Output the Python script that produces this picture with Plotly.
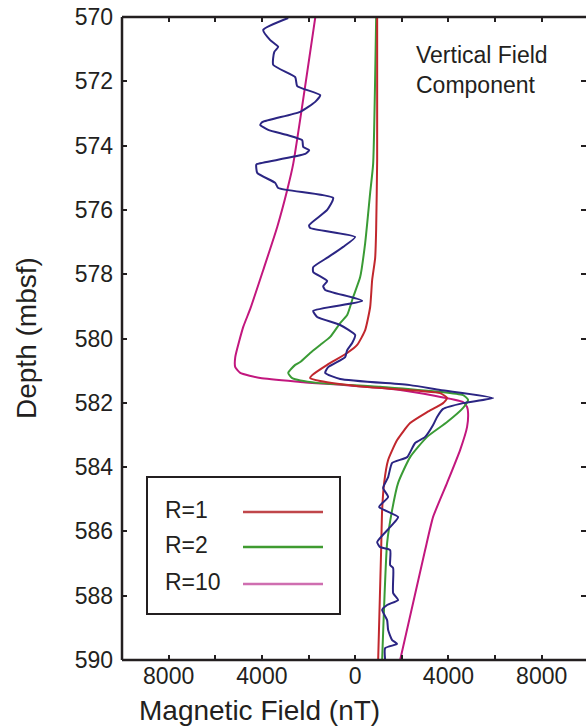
import plotly.graph_objects as go

# ---------------- data ----------------
obs_depth = [570.03, 570.40, 570.72, 570.93, 571.09, 571.49, 571.87, 572.15, 572.43, 572.64,
             572.95, 573.27, 573.36, 573.51, 573.67, 573.83, 574.04, 574.14, 574.26, 574.57,
             574.60, 574.85, 575.16, 575.32, 575.63, 576.00, 576.47, 576.56, 576.84, 577.15,
             577.47, 577.78, 577.93, 578.21, 578.37, 578.49, 578.83, 579.14, 579.33, 579.58,
             579.89, 580.14, 580.36, 580.58, 580.89, 581.07, 581.26, 581.45, 581.60, 581.85,
             582.01, 582.19, 582.44, 582.69, 583.06, 583.25, 583.69, 583.87, 584.31, 584.65,
             584.93, 585.24, 585.55, 585.80, 586.33, 586.49, 586.58, 587.05, 587.14, 587.92,
             588.13, 588.29, 588.44, 588.76, 589.07, 589.38, 589.50, 589.63, 590.0]
obs_field = [-2871, -3943, -3643, -3300, -3471, -3514, -2571, -2486, -1500, -1714,
             -2357, -3986, -4071, -3729, -2914, -2271, -2229, -1971, -2143, -4200,
             -4243, -4200, -3429, -3300, -943, -1200, -1971, -1929, 0, -514,
             -1157, -1800, -1800, -1200, -1371, -1286, 300, -1800, -1629, -643,
             0, -129, -343, -429, -1157, -1286, -643, 2357, 3643, 5914,
             4629, 3771, 3514, 3343, 3000, 2571, 2229, 1586, 1414, 1200,
             1414, 1029, 1843, 1586, 943, 1071, 1500, 1500, 1629, 1629,
             1843, 1371, 1157, 1371, 1414, 1586, 1800, 1286, 1286]

r1_depth = [570.03, 574.45, 576.60, 577.50, 578.18, 579.02, 579.74, 580.20, 580.45, 580.82,
            581.14, 581.23, 581.32, 581.51, 581.70, 581.85, 582.01, 582.29, 582.63, 583.16,
            583.78, 584.49, 585.33, 586.58, 590.0]
r1_field = [943, 943, 900, 857, 729, 643, 429, 86, -343, -1200,
            -1843, -1929, -1500, 514, 3643, 3943, 3771, 3086, 2357, 1800,
            1414, 1243, 1157, 1114, 986]

r2_depth = [570.03, 574.57, 575.47, 577.03, 578.09, 578.71, 579.27, 579.52, 579.95, 580.20,
            580.45, 580.73, 580.82, 581.07, 581.23, 581.38, 581.50, 581.76, 581.91, 582.16,
            582.60, 583.06, 583.69, 584.49, 585.33, 586.36, 590.0]
r2_field = [900, 771, 643, 429, 214, -86, -343, -643, -1071, -1500,
            -1929, -2357, -2571, -2871, -2700, -1629, 1071, 4629, 4843, 4629,
            3943, 3086, 2357, 1843, 1586, 1371, 1157]

r10_depth = [570.03, 574.57, 575.38, 576.53, 577.87, 579.08, 579.64, 580.58, 580.89, 581.07,
             581.23, 581.35, 581.60, 581.98, 582.13, 582.32, 582.75, 583.47, 584.49, 585.55,
             586.58, 590.0]
r10_field = [-1714, -2657, -2914, -3343, -3943, -4500, -4800, -5143, -5143, -4929,
             -4071, -2357, 1929, 4629, 4800, 4843, 4800, 4500, 3943, 3343,
             3000, 1929]

x_tickvals = [-8000, -4000, 0, 4000, 8000]
x_ticktext = ["8000", "4000", "0", "4000", "8000"]
legend_labels = ["R=1", "R=2", "R=10"]

# ---------------- styling ----------------
W, H = 586, 726
ML, MR, MT, MB = 122, 0, 17, 66
FONT = "Liberation Sans, Arial, Helvetica, sans-serif"
TXT = "#231f20"
C_OBS = "#2b2583"
C_R1 = "#c1272d"
C_R2 = "#3a9b35"
C_R10 = "#c2177e"
LEG_COLORS = ["#c0464a", "#3f9b30", "#cf6eb0"]

pw = W - ML - MR
ph = H - MT - MB


def px_x(px):
    return (px - ML) / pw


def px_y(py):
    return (H - MB - py) / ph


fig = go.Figure()
for xs, ys, col in [(r10_field, r10_depth, C_R10), (r2_field, r2_depth, C_R2),
                    (r1_field, r1_depth, C_R1), (obs_field, obs_depth, C_OBS)]:
    fig.add_trace(go.Scatter(x=xs, y=ys, mode="lines",
                             line=dict(color=col, width=2, shape="spline", smoothing=0.5),
                             showlegend=False, hoverinfo="skip"))

fig.update_layout(
    width=W, height=H,
    margin=dict(l=ML, r=MR, t=MT, b=MB, pad=0),
    paper_bgcolor="white", plot_bgcolor="white",
    font=dict(family=FONT, size=23, color=TXT),
    showlegend=False,
)
fig.update_xaxes(range=[-10000, 9900], tickvals=x_tickvals, ticktext=x_ticktext,
                 showgrid=False, zeroline=False, showline=False, mirror="ticks",
                 ticks="inside", ticklen=5, tickwidth=2, tickcolor=TXT,
                 tickfont=dict(size=23, color=TXT),
                 minor=dict(dtick=2000, tick0=0, ticks="inside", ticklen=5, tickwidth=2,
                            tickcolor=TXT, showgrid=False))
fig.update_yaxes(range=[590, 570], dtick=2, tick0=570,
                 showgrid=False, zeroline=False, showline=False, mirror="ticks",
                 ticks="inside", ticklen=5, tickwidth=2, tickcolor=TXT,
                 tickfont=dict(size=23, color=TXT), ticklabelstandoff=8)

# frame: left, bottom, top
for x0, y0, x1, y1 in [(0, 0, 0, 1), (0, 0, 1, 0), (0, 1, 1, 1)]:
    fig.add_shape(type="line", xref="paper", yref="paper", x0=x0, y0=y0, x1=x1, y1=y1,
                  line=dict(color=TXT, width=2.5), layer="above")

# axis titles
fig.add_annotation(text="Magnetic Field (nT)", xref="paper", yref="paper",
                   x=px_x(259), y=px_y(710), xanchor="center", yanchor="middle",
                   showarrow=False, font=dict(size=28, color=TXT))
fig.add_annotation(text="Depth (mbsf)", xref="paper", yref="paper", textangle=-90,
                   x=px_x(27), y=px_y(338), xanchor="center", yanchor="middle",
                   showarrow=False, font=dict(size=28, color=TXT))

# in-plot label
fig.add_annotation(text="Vertical Field<br>Component", xref="paper", yref="paper",
                   x=px_x(414), y=px_y(40), xanchor="left", yanchor="top", align="left",
                   showarrow=False, font=dict(size=23, color=TXT))

# manual legend
fig.add_shape(type="rect", xref="paper", yref="paper",
              x0=px_x(147), x1=px_x(340), y0=px_y(614), y1=px_y(477),
              line=dict(color=TXT, width=2), fillcolor="white", layer="above")
row_y = [512, 547, 584]
for lab, col, ry in zip(legend_labels, LEG_COLORS, row_y):
    fig.add_annotation(text=lab, xref="paper", yref="paper", x=px_x(163), y=px_y(ry - 2),
                       xanchor="left", yanchor="middle", showarrow=False,
                       font=dict(size=23, color=TXT))
    fig.add_shape(type="line", xref="paper", yref="paper",
                  x0=px_x(243), x1=px_x(323), y0=px_y(ry), y1=px_y(ry),
                  line=dict(color=col, width=2.5), layer="above")

fig.write_html("out.html", config={"displayModeBar": False, "staticPlot": True},
               post_script="document.body.style.margin='0';document.body.style.padding='0';")
